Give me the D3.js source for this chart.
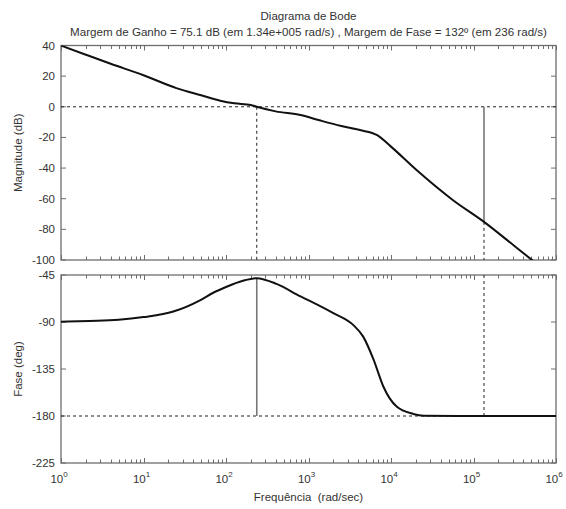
<!DOCTYPE html>
<html>
<head>
<meta charset="utf-8">
<script src="https://cdn.jsdelivr.net/npm/d3@7"></script>
<style>
  html, body { margin: 0; padding: 0; background: #fff; }
  svg { display: block; font-family: "Liberation Sans", Arial, sans-serif; }
  text { white-space: pre; }
</style>
</head>
<body>
<script>
// ---- data ----
const magFreq = [1, 2, 4, 10, 25, 50, 85, 126, 200, 236, 400, 800, 1400, 2500, 4200, 6800, 10000, 20400, 56000, 134000, 316000, 540000];
const magDb   = [40, 34, 28.1, 20.6, 12.2, 7.5, 4.0, 2.3, 1.2, 0, -3, -5.4, -9, -12.5, -15.2, -18.5, -26, -41.3, -60.8, -75.1, -91, -101];

const phaseFreq = [1, 2.2, 5, 10, 23, 49, 70, 100, 160, 236, 410, 800, 1050, 2000, 3500, 4600, 6150, 8100, 11700, 18600, 25000, 100000, 1000000];
const phaseDeg  = [-89.7, -89, -87.9, -85.3, -80, -69, -62, -56.5, -50.5, -48, -53.5, -65.5, -70, -81.5, -93, -104, -126, -152, -171, -178, -179.7, -180, -180];

const magTicks   = [40, 20, 0, -20, -40, -60, -80, -100];
const phaseTicks = [-45, -90, -135, -180, -225];
const decadeExps = [0, 1, 2, 3, 4, 5, 6];

const gainMarginFreq = 1.34e5, gainMarginDb = -75.1;
const phaseCrossFreq = 236, phaseAtCross = -48;

const titleLine1 = "Diagrama de Bode";
const titleLine2 = "Margem de Ganho = 75.1 dB (em 1.34e+005 rad/s) , Margem de Fase = 132º (em 236 rad/s)";
const xLabel = "Frequência  (rad/sec)";
const yLabelMag = "Magnitude (dB)";
const yLabelPhase = "Fase (deg)";

// ---- layout ----
const W = 566, H = 509;
const left = 61, right = 556;
const magTop = 45.5, magBottom = 260;
const phTop = 275, phBottom = 463;
const axisColor = "#6e6e6e", textColor = "#333";
const fs = 11.5;

const svg = d3.select("body").append("svg").attr("width", W).attr("height", H);

const x = d3.scaleLog().domain([1, 1e6]).range([left, right]);
const yMag = d3.scaleLinear().domain([-100, 40]).range([magBottom, magTop]);
const yPh = d3.scaleLinear().domain([-225, -45]).range([phBottom, phTop]);

const minorVals = [];
for (let e = 0; e < 6; e++) for (let k = 2; k <= 9; k++) minorVals.push(k * Math.pow(10, e));
const majorVals = decadeExps.map(e => Math.pow(10, e));
const xTickDefs = majorVals.map(v => ({v, len: 5})).concat(minorVals.map(v => ({v, len: 3.5})));

svg.append("defs").call(d => {
  d.append("clipPath").attr("id", "clipMag").append("rect")
    .attr("x", left).attr("y", magTop).attr("width", right - left).attr("height", magBottom - magTop);
  d.append("clipPath").attr("id", "clipPh").append("rect")
    .attr("x", left).attr("y", phTop).attr("width", right - left).attr("height", phBottom - phTop);
});

function drawFrame(yScale, top, bottom, yTicks, showXLabels) {
  const g = svg.append("g");
  // x ticks on top and bottom edges (inward)
  g.selectAll("line.xb").data(xTickDefs).join("line").attr("class", "xb")
    .attr("x1", d => Math.round(x(d.v)) + 0.5).attr("x2", d => Math.round(x(d.v)) + 0.5)
    .attr("y1", bottom).attr("y2", d => bottom - d.len)
    .attr("stroke", axisColor).attr("stroke-width", 1);
  g.selectAll("line.xt").data(xTickDefs).join("line").attr("class", "xt")
    .attr("x1", d => Math.round(x(d.v)) + 0.5).attr("x2", d => Math.round(x(d.v)) + 0.5)
    .attr("y1", top).attr("y2", d => top + d.len)
    .attr("stroke", axisColor).attr("stroke-width", 1);
  // y ticks left and right
  g.selectAll("line.yl").data(yTicks).join("line").attr("class", "yl")
    .attr("x1", left).attr("x2", left + 5).attr("y1", d => yScale(d)).attr("y2", d => yScale(d))
    .attr("stroke", axisColor).attr("stroke-width", 1);
  g.selectAll("line.yr").data(yTicks).join("line").attr("class", "yr")
    .attr("x1", right).attr("x2", right - 5).attr("y1", d => yScale(d)).attr("y2", d => yScale(d))
    .attr("stroke", axisColor).attr("stroke-width", 1);
  g.selectAll("text.yl").data(yTicks).join("text").attr("class", "yl")
    .attr("x", left - 6).attr("y", d => yScale(d)).attr("dy", "0.35em")
    .attr("text-anchor", "end").attr("fill", textColor).attr("font-size", fs)
    .text(d => String(d));
  g.append("rect").attr("x", left).attr("y", top).attr("width", right - left).attr("height", bottom - top)
    .attr("fill", "none").attr("stroke", axisColor).attr("stroke-width", 1.3);
  if (showXLabels) {
    const lab = g.append("g");
    decadeExps.forEach(e => {
      const t = lab.append("text").attr("x", x(Math.pow(10, e)) - 2).attr("y", bottom + 20)
        .attr("text-anchor", "middle").attr("fill", textColor).attr("font-size", fs);
      t.append("tspan").text("10");
      t.append("tspan").attr("dy", -6).attr("font-size", 8).text(String(e));
    });
  }
}

drawFrame(yMag, magTop, magBottom, magTicks, false);
drawFrame(yPh, phTop, phBottom, phaseTicks, true);

// reference dashed lines
const dash = "3,3";
svg.append("line").attr("x1", left).attr("x2", right).attr("y1", yMag(0)).attr("y2", yMag(0))
  .attr("stroke", "#222").attr("stroke-width", 1).attr("stroke-dasharray", dash);
svg.append("line").attr("x1", left).attr("x2", right).attr("y1", yPh(-180)).attr("y2", yPh(-180))
  .attr("stroke", "#222").attr("stroke-width", 1).attr("stroke-dasharray", dash);

// phase margin: dotted in magnitude plot, solid in phase plot
svg.append("line").attr("x1", x(phaseCrossFreq)).attr("x2", x(phaseCrossFreq))
  .attr("y1", yMag(0)).attr("y2", magBottom)
  .attr("stroke", "#222").attr("stroke-width", 1).attr("stroke-dasharray", dash);
svg.append("line").attr("x1", x(phaseCrossFreq)).attr("x2", x(phaseCrossFreq))
  .attr("y1", yPh(phaseAtCross)).attr("y2", yPh(-180))
  .attr("stroke", "#777").attr("stroke-width", 1.6);

// gain margin: solid in magnitude plot, dotted in phase plot
svg.append("line").attr("x1", x(gainMarginFreq)).attr("x2", x(gainMarginFreq))
  .attr("y1", yMag(0)).attr("y2", yMag(gainMarginDb))
  .attr("stroke", "#777").attr("stroke-width", 1.6);
svg.append("line").attr("x1", x(gainMarginFreq)).attr("x2", x(gainMarginFreq))
  .attr("y1", yMag(gainMarginDb)).attr("y2", magBottom)
  .attr("stroke", "#222").attr("stroke-width", 1).attr("stroke-dasharray", dash);
svg.append("line").attr("x1", x(gainMarginFreq)).attr("x2", x(gainMarginFreq))
  .attr("y1", phTop).attr("y2", yPh(-180))
  .attr("stroke", "#222").attr("stroke-width", 1).attr("stroke-dasharray", dash);

// curves
const magData = magFreq.map((f, i) => [f, magDb[i]]);
const phData = phaseFreq.map((f, i) => [f, phaseDeg[i]]);
svg.append("path").datum(magData).attr("clip-path", "url(#clipMag)")
  .attr("fill", "none").attr("stroke", "#111").attr("stroke-width", 2)
  .attr("d", d3.line().x(d => x(d[0])).y(d => yMag(d[1])).curve(d3.curveMonotoneX));
svg.append("path").datum(phData).attr("clip-path", "url(#clipPh)")
  .attr("fill", "none").attr("stroke", "#111").attr("stroke-width", 2)
  .attr("d", d3.line().x(d => x(d[0])).y(d => yPh(d[1])).curve(d3.curveMonotoneX));

// titles and labels
const cx = (left + right) / 2;
svg.append("text").attr("x", cx).attr("y", 20).attr("text-anchor", "middle")
  .attr("fill", textColor).attr("font-size", fs).text(titleLine1);
svg.append("text").attr("x", cx).attr("y", 36).attr("text-anchor", "middle")
  .attr("fill", textColor).attr("font-size", 11.6).text(titleLine2);
svg.append("text").attr("x", cx).attr("y", 501).attr("text-anchor", "middle")
  .attr("fill", textColor).attr("font-size", fs).text(xLabel);
svg.append("text").attr("transform", `translate(22,${(magTop + magBottom) / 2}) rotate(-90)`)
  .attr("text-anchor", "middle").attr("fill", textColor).attr("font-size", fs).text(yLabelMag);
svg.append("text").attr("transform", `translate(22,${(phTop + phBottom) / 2}) rotate(-90)`)
  .attr("text-anchor", "middle").attr("fill", textColor).attr("font-size", fs).text(yLabelPhase);
</script>
</body>
</html>
